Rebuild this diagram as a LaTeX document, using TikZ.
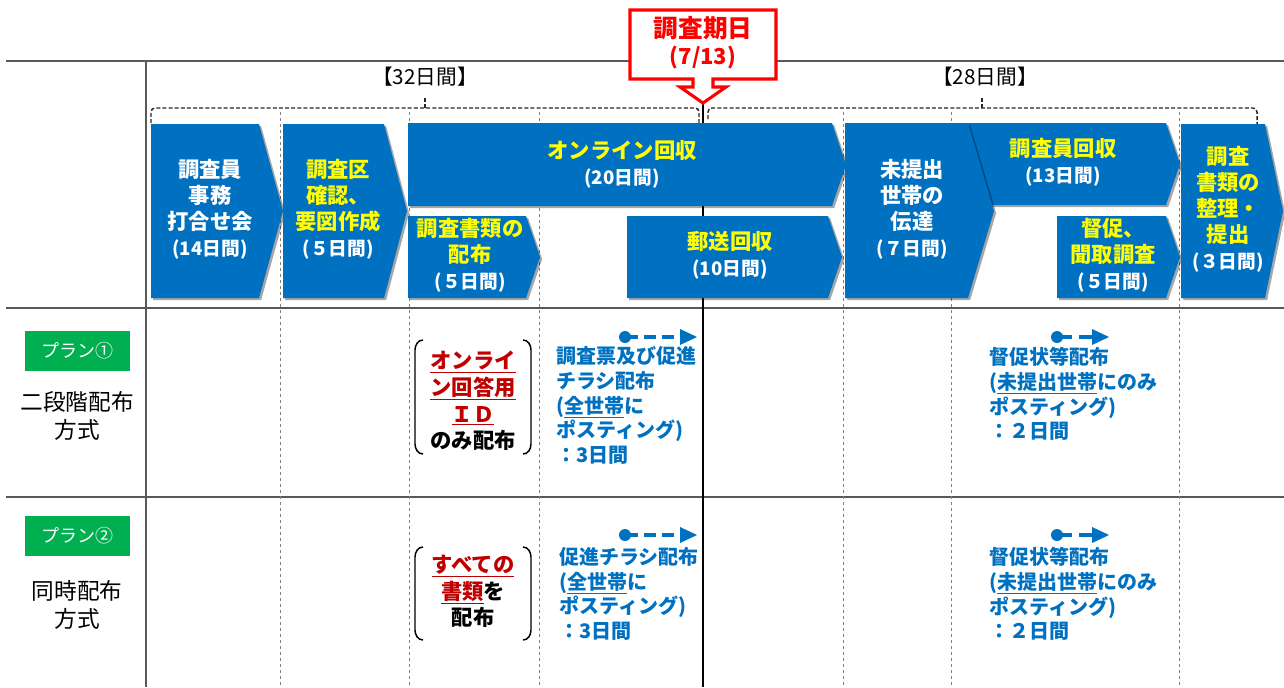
\documentclass[tikz,border=0pt]{standalone}
\usepackage{fontspec}
\setmainfont{Noto Sans CJK JP}
\usetikzlibrary{shadows}
\definecolor{mblue}{HTML}{0070C0}
\definecolor{myellow}{HTML}{FFFF00}
\definecolor{mred}{HTML}{FF0000}
\definecolor{dred}{HTML}{C00000}
\definecolor{mgreen}{HTML}{00B050}
\definecolor{gridc}{HTML}{7F7F7F}
\definecolor{framec}{HTML}{595959}
\newcommand\yel[1]{\textcolor{myellow}{#1}}
\newcommand\daystext[1]{{\fontsize{14}{19.5}\selectfont\color{white}#1}}
\begin{document}
\begin{tikzpicture}[x=0.75pt,y=-0.75pt,
  chev/.style={fill=mblue, drop shadow={shadow xshift=1.6pt,shadow yshift=-1.6pt,opacity=0.35,fill=black}},
  ctext/.style={align=center, text=white, font=\fontsize{16}{19.5}\selectfont\bfseries, inner sep=0pt},
  frameline/.style={draw=framec, line width=1.1pt},
  gridline/.style={draw=gridc, line width=0.7pt, dash pattern=on 2.5pt off 2pt},
  bracketline/.style={draw=black!85, line width=1.1pt, dash pattern=on 3pt off 1.6pt, rounded corners=3pt},
  parenline/.style={draw=black, line width=1.1pt},
  bluetxt/.style={align=left, text=mblue, font=\fontsize{15}{18.5}\selectfont\bfseries, inner sep=0pt, anchor=west},
  redtxt/.style={align=center, font=\fontsize{16}{20}\selectfont\bfseries, inner sep=0pt},
  planbox/.style={fill=mgreen, text=white, minimum width=78.75pt, minimum height=30pt, inner sep=0pt, font=\fontsize{13.5}{16}\selectfont},
  rowlabel/.style={align=center, font=\fontsize{17}{21}\selectfont, inner sep=0pt},
  period/.style={font=\fontsize{15.5}{18}\selectfont, inner sep=0pt},
  arrowpart/.style={draw=mblue, line width=3pt},
]
\useasboundingbox (0,0) rectangle (1284,687);

% frame
\draw[frameline] (6,61) -- (1284,61);
\draw[frameline] (6,308) -- (1284,308);
\draw[frameline] (6,497) -- (1284,497);
\draw[frameline] (146,61) -- (146,687);

% dashed grid
\foreach \gx in {280,409,539,843,951,1179}
  \draw[gridline] (\gx,112) -- (\gx,687);

% period brackets
\coordinate (b1l) at (151,123); \coordinate (b1r) at (699,123);
\coordinate (b1t) at (425,96);
\draw[bracketline] (b1l) -- (151,108) -- (699,108) -- (b1r);
\draw[bracketline] (425,108) -- (b1t);
\coordinate (b2l) at (708,119); \coordinate (b2r) at (1257,124);
\coordinate (b2t) at (982,96);
\draw[bracketline] (b2l) -- (708,108) -- (1257,108) -- (b2r);
\draw[bracketline] (982,108) -- (b2t);
\node[period] (p32) at (425,77) {【32日間】};
\node[period] (p28) at (985,77) {【28日間】};

% survey date line
\draw[line width=2.2pt] (703,103) -- (703,687);

% chevrons
\path[chev] (151,124) -- (259,124) -- (283,211) -- (259,298) -- (151,298) -- cycle;
\path[chev] (283,124) -- (384,124) -- (407,211) -- (384,298) -- (283,298) -- cycle;
\path[chev] (408,123) -- (832,123) -- (846,165) -- (832,206) -- (408,206) -- cycle;
\path[chev] (408,216) -- (526,216) -- (540,257) -- (526,298) -- (408,298) -- cycle;
\path[chev] (627,216) -- (828,216) -- (842,257) -- (828,298) -- (627,298) -- cycle;
\path[chev] (950,123) -- (1166,123) -- (1180,164) -- (1166,205) -- (950,205) -- cycle;
\path[chev] (845,123) -- (968,123) -- (994,211) -- (968,298) -- (845,298) -- cycle;
\path[chev] (1057,216) -- (1166,216) -- (1180,257) -- (1166,298) -- (1057,298) -- cycle;
\path[chev] (1181,124) -- (1265,124) -- (1283,211) -- (1265,298) -- (1181,298) -- cycle;

\node[ctext] (c1) at (210,209) {調査員\\事務\\打合せ会\\\daystext{(14日間)}};
\node[ctext] (c2) at (338,209) {\yel{調査区}\\\yel{確認、}\\\yel{要図作成}\\\daystext{(５日間)}};
\node[ctext] (c3) at (622,164) {\yel{オンライン回収}\\\daystext{(20日間)}};
\node[ctext] (c4) at (470,255.5) {\yel{調査書類の}\\\yel{配布}\\\daystext{(５日間)}};
\node[ctext] (c5) at (730,255.5) {\yel{郵送回収}\\\daystext{(10日間)}};
\node[ctext] (c6) at (912,209.5) {未提出\\世帯の\\伝達\\\daystext{(７日間)}};
\node[ctext] (c7) at (1063,162.5) {\yel{調査員回収}\\\daystext{(13日間)}};
\node[ctext] (c8) at (1113,255.5) {\yel{督促、}\\\yel{聞取調査}\\\daystext{(５日間)}};
\node[ctext] (c9) at (1228,209.5) {\yel{調査}\\\yel{書類の}\\\yel{整理・}\\\yel{提出}\\\daystext{(３日間)}};

% callout
\path[draw=mred, line width=2.3pt, fill=white, line join=miter]
  (630,10) -- (776,10) -- (776,79) -- (713,79) -- (713,87) -- (726,87) -- (703,103)
  -- (680,87) -- (693,87) -- (693,79) -- (630,79) -- cycle;
\node[text=mred, font=\fontsize{18.5}{22}\selectfont\bfseries, inner sep=0pt] (date1) at (703,28) {調査期日};
\node[text=mred, font=\fontsize{16.5}{20}\selectfont\bfseries, inner sep=0pt] (date2) at (703,57) {(7/13)};

% row labels
\node[planbox] (plan1) at (77.5,351) {プラン①};
\node[rowlabel] (plan1t) at (77,416) {二段階配布\\方式};
\node[planbox] (plan2) at (77.5,535.5) {プラン②};
\node[rowlabel] (plan2t) at (77,605) {同時配布\\方式};

% parentheses boxes
\draw[parenline] (423,340) to[out=180,in=90] (415,350) -- (415,444) to[out=270,in=180] (423,454);
\draw[parenline] (523,340) to[out=0,in=90] (531,350) -- (531,444) to[out=270,in=0] (523,454);
\node[redtxt] (r1) at (473,401) {\textcolor{dred}{\underline{オンライ}}\\\textcolor{dred}{\underline{ン回答用}}\\\textcolor{dred}{\underline{ＩＤ}}\\のみ配布};
\draw[parenline] (423,547) to[out=180,in=90] (415,557) -- (415,630) to[out=270,in=180] (423,640);
\draw[parenline] (523,547) to[out=0,in=90] (531,557) -- (531,630) to[out=270,in=0] (523,640);
\node[redtxt] (r2) at (473,591.5) {\textcolor{dred}{\underline{すべての}}\\\textcolor{dred}{\underline{書類}}を\\配布};

% blue distribution arrows
\foreach \ay in {337,535} {
  \fill[mblue] (625,\ay) circle (4.5pt);
  \draw[arrowpart, dash pattern=on 9pt off 4.5pt] (626,\ay) -- (681,\ay);
  \fill[mblue] (680,\ay-8) -- (697,\ay) -- (680,\ay+8) -- cycle;
  \fill[mblue] (1057,\ay) circle (4.5pt);
  \draw[arrowpart] (1057,\ay) -- (1072,\ay);
  \draw[arrowpart] (1079,\ay) -- (1093,\ay);
  \fill[mblue] (1092,\ay-8) -- (1109,\ay) -- (1092,\ay+8) -- cycle;
}

% blue texts
\node[bluetxt] (t1) at (556,405.5) {調査票及び促進\\チラシ配布\\(\underline{全世帯}に\\ポスティング)\\：3日間};
\node[bluetxt] (t2) at (989,394) {督促状等配布\\(\underline{未提出世帯}にのみ\\ポスティング)\\：２日間};
\node[bluetxt] (t3) at (559,594) {促進チラシ配布\\(\underline{全世帯}に\\ポスティング)\\：3日間};
\node[bluetxt] (t4) at (989,594) {督促状等配布\\(\underline{未提出世帯}にのみ\\ポスティング)\\：２日間};
\end{tikzpicture}
\end{document}
